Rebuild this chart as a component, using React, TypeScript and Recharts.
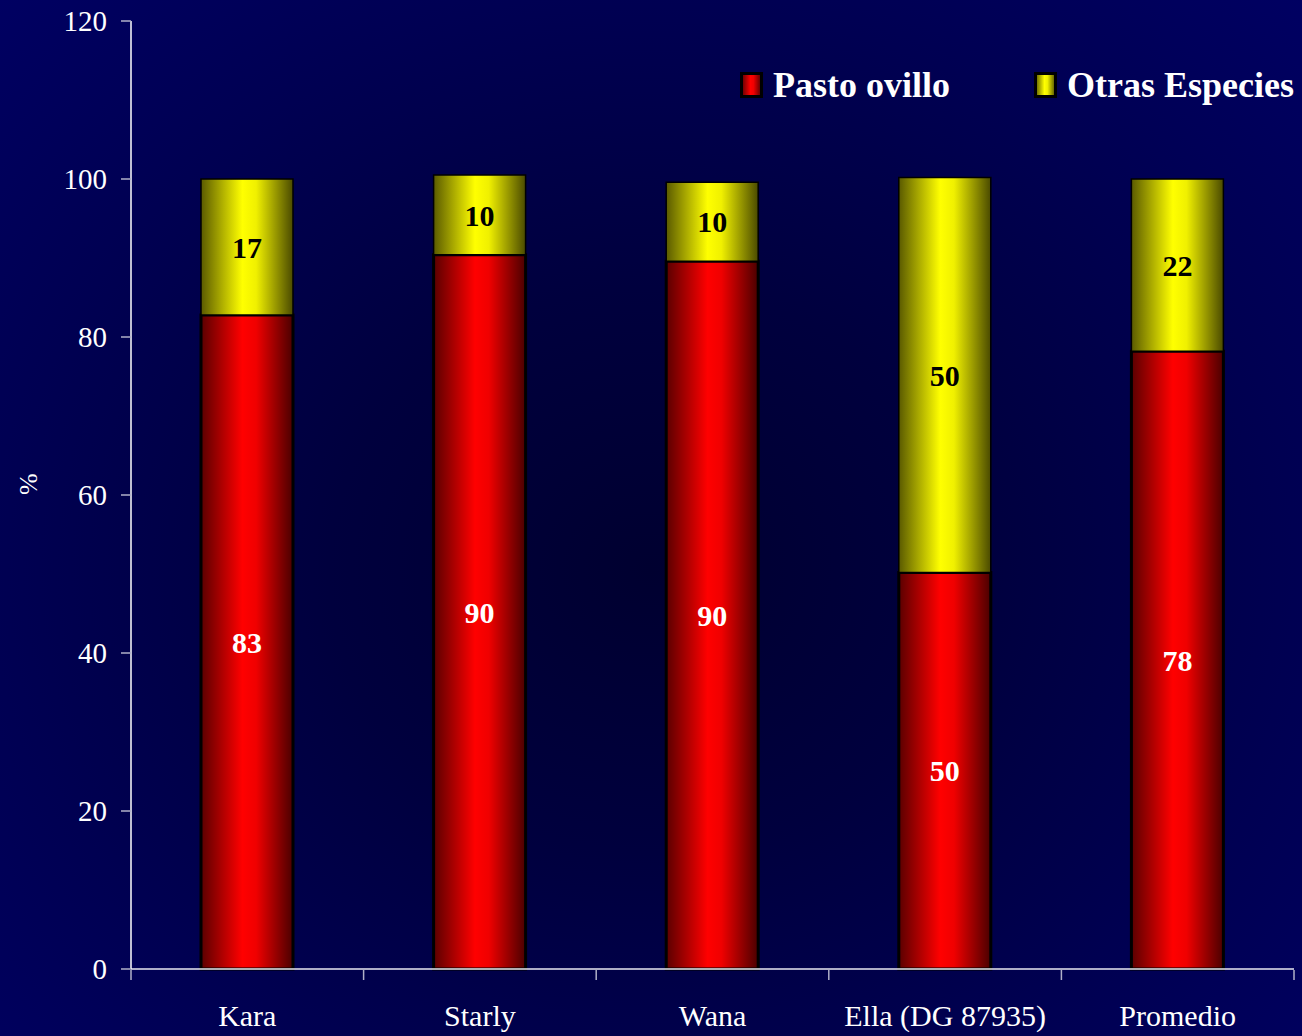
import { BarChart, Bar, XAxis, YAxis, LabelList, Label } from 'recharts';

const categories = ['Kara', 'Starly', 'Wana', 'Ella (DG 87935)', 'Promedio'];
const pastoOvillo = [82.8, 90.4, 89.6, 50.2, 78.2];
const otrasEspecies = [17.2, 10.1, 10.0, 50.0, 21.8];
const yTicks = [0, 20, 40, 60, 80, 100, 120];
const seriesNames = ['Pasto ovillo', 'Otras Especies'];

const data = categories.map((name, i) => ({
  name,
  idx: i + 0.5,
  pasto: pastoOvillo[i],
  otras: otrasEspecies[i],
}));

const edgeTicks = categories.map((_, i) => i).concat(categories.length);

const FONT = '"Liberation Serif", "Times New Roman", serif';

function LegendBox() {
  const fills = ['url(#gradRed)', 'url(#gradYellow)'];
  return (
    <div
      style={{
        position: 'absolute',
        top: 65,
        left: 740,
        display: 'flex',
        alignItems: 'center',
        fontFamily: FONT,
      }}
    >
      {seriesNames.map((n, i) => (
        <div
          key={n}
          style={{ display: 'flex', alignItems: 'center', marginLeft: i === 0 ? 0 : 84 }}
        >
          <svg width={23} height={26} style={{ marginRight: 10 }}>
            <rect x={1.5} y={1.5} width={20} height={23} fill={fills[i]} stroke="#000" strokeWidth={3} />
          </svg>
          <span style={{ color: '#fff', fontSize: 36, fontWeight: 'bold', lineHeight: '40px' }}>{n}</span>
        </div>
      ))}
    </div>
  );
}

export default function App() {
  return (
    <div
      style={{
        position: 'absolute',
        left: 0,
        top: 0,
        width: 1302,
        height: 1036,
        background:
          'radial-gradient(ellipse at 50% 55%, #000030 0%, #00003e 35%, #000052 70%, #000062 100%)',
      }}
    >
      <BarChart
        width={1302}
        height={1036}
        data={data}
        margin={{ top: 21, right: 8, left: 0, bottom: 65 }}
        barSize={92}
      >
        <defs>
          <linearGradient id="gradRed" x1="0" y1="0" x2="1" y2="0">
            <stop offset="0%" stopColor="#5a0000" />
            <stop offset="45%" stopColor="#ff0000" />
            <stop offset="60%" stopColor="#f00000" />
            <stop offset="100%" stopColor="#4a0000" />
          </linearGradient>
          <linearGradient id="gradYellow" x1="0" y1="0" x2="1" y2="0">
            <stop offset="0%" stopColor="#5a5a00" />
            <stop offset="45%" stopColor="#ffff00" />
            <stop offset="60%" stopColor="#f0f000" />
            <stop offset="100%" stopColor="#4a4a00" />
          </linearGradient>
        </defs>
        <XAxis
          xAxisId="cat"
          dataKey="name"
          height={1}
          tickLine={false}
          tickSize={0}
          tickMargin={36}
          axisLine={{ stroke: '#e8e8f0', strokeWidth: 1.5 }}
          tick={{ fill: '#ffffff', fontSize: 30, fontFamily: FONT }}
          interval={0}
        />
        <XAxis
          xAxisId="edges"
          type="number"
          dataKey="idx"
          domain={[0, categories.length]}
          ticks={edgeTicks}
          height={1}
          axisLine={false}
          tickSize={10}
          tickLine={{ stroke: '#b0b0c8', strokeWidth: 1.5 }}
          tickFormatter={() => ''}
          allowDataOverflow
        />
        <YAxis
          width={131}
          domain={[0, 120]}
          ticks={yTicks}
          interval={0}
          tickSize={10}
          tickMargin={14}
          axisLine={{ stroke: '#ffffff', strokeWidth: 1.5 }}
          tickLine={{ stroke: '#b0b0c8', strokeWidth: 1.5 }}
          tick={{ fill: '#ffffff', fontSize: 29, fontFamily: FONT }}
        >
          <Label
            value="%"
            angle={-90}
            position="insideLeft"
            offset={28}
            style={{ fill: '#ffffff', fontSize: 26, fontFamily: FONT }}
          />
        </YAxis>
        <Bar
          xAxisId="cat"
          dataKey="pasto"
          name={seriesNames[0]}
          stackId="a"
          fill="url(#gradRed)"
          stroke="#000"
          strokeWidth={3}
          isAnimationActive={false}
        >
          <LabelList
            dataKey="pasto"
            position="center"
            formatter={(v: number) => Math.round(v)}
            fill="#ffffff"
            fontSize={30}
            fontWeight="bold"
            fontFamily={FONT}
          />
        </Bar>
        <Bar
          xAxisId="cat"
          dataKey="otras"
          name={seriesNames[1]}
          stackId="a"
          fill="url(#gradYellow)"
          stroke="#000"
          strokeWidth={1.5}
          isAnimationActive={false}
        >
          <LabelList
            dataKey="otras"
            position="center"
            formatter={(v: number) => Math.round(v)}
            fill="#000000"
            fontSize={30}
            fontWeight="bold"
            fontFamily={FONT}
          />
        </Bar>
      </BarChart>
      <LegendBox />
    </div>
  );
}
